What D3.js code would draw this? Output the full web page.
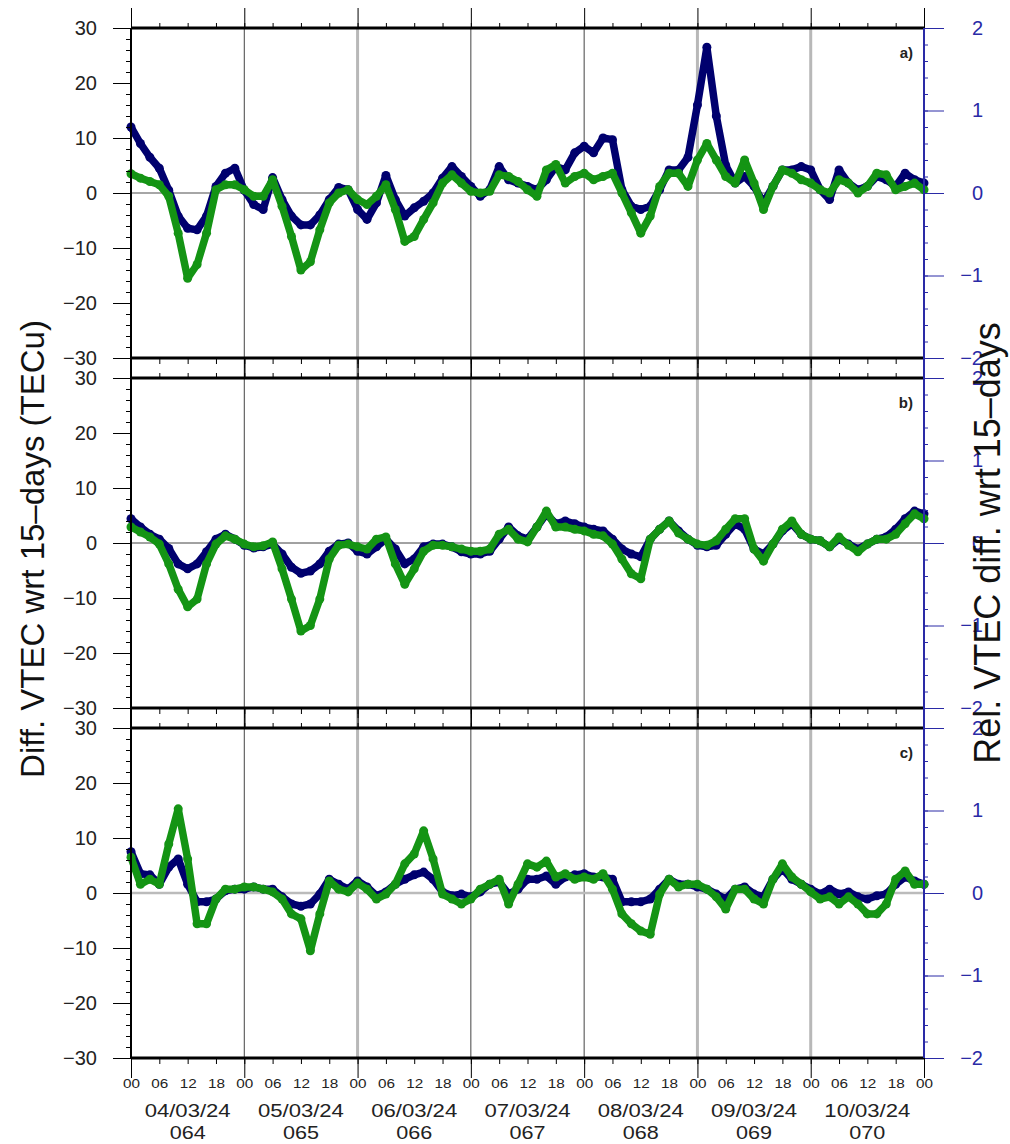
<!DOCTYPE html>
<html>
<head>
<meta charset="utf-8">
<script src="https://cdn.jsdelivr.net/npm/d3@7"></script>
<style>
body { margin: 0; background: #fff; }
svg { font-family: "Liberation Sans", Arial, sans-serif; }
</style>
</head>
<body>
<svg id="chart" width="1010" height="1144"></svg>
<script>
// sample times, hours since 04/03/24 00 UT (2-hour sampling)
const hours = [0, 2, 4, 6, 8, 10, 12, 14, 16, 18, 20, 22,
  24, 26, 28, 30, 32, 34, 36, 38, 40, 42, 44, 46,
  48, 50, 52, 54, 56, 58, 60, 62, 64, 66, 68, 70,
  72, 74, 76, 78, 80, 82, 84, 86, 88, 90, 92, 94,
  96, 98, 100, 102, 104, 106, 108, 110, 112, 114, 116, 118,
  120, 122, 124, 126, 128, 130, 132, 134, 136, 138, 140, 142,
  144, 146, 148, 150, 152, 154, 156, 158, 160, 162, 164, 166, 168];

const dayLabels = ["04/03/24", "05/03/24", "06/03/24", "07/03/24", "08/03/24", "09/03/24", "10/03/24"];
const doyLabels = ["064", "065", "066", "067", "068", "069", "070"];
const hourLabels = ["00", "06", "12", "18"];
const leftTicks = [-30, -20, -10, 0, 10, 20, 30];
const rightTicks = [-2, -1, 0, 1, 2];
const panelLabels = ["a)", "b)", "c)"];

// panel a
const aBlue = [12, 9, 6.5, 4.5, 0.5, -4.2, -6.4, -6.7, -4.2, 1.2, 3.6, 4.5,
  0.5, -2.1, -3, 2.8, -1.2, -4.2, -5.8, -5.8, -4, -1.2, 1, 0.6,
  -3, -4.8, -1.8, 3.2, -1.2, -4.2, -2.7, -1.5, 0, 2.7, 4.8, 3,
  1.2, -0.6, 0.6, 4.8, 2.4, 1.8, 1.2, 0.6, 2.4, 4.8, 4.2, 7.3,
  8.5, 7.3, 10, 9.7, 0.6, -2.4, -3, -2.4, 0.6, 4.2, 4.2, 6.5,
  16, 26.5, 14, 5, 1.8, 3, 1.2, -1.8, 1.2, 4.2, 4.2, 4.8,
  4.2, 0.6, -1.2, 4.2, 1.8, 0.6, 1.2, 3, 2.4, 1.2, 3.6, 2.4, 1.8];
const aGreen = [3.5, 2.7, 2.1, 1.5, -0.6, -7.3, -15.5, -13, -7.3, 0.6, 1.5, 1.5,
  0.6, -0.6, -0.6, 2.4, -2.4, -7.9, -14, -12.5, -6.7, -1.8, 0, 0.6,
  -1.2, -2.1, -0.6, 1.5, -3, -8.8, -7.9, -4.8, -1.8, 1.8, 3.3, 1.8,
  0.3, 0, 0.3, 3.3, 3, 2.1, 0.6, -0.6, 4.2, 5.2, 1.8, 3,
  3.6, 2.4, 3, 3.6, 0, -3.6, -7.3, -4.2, 1.2, 3.6, 3.6, 1.2,
  6, 9, 6, 3, 1.8, 6, 1.8, -3, 1.2, 4.2, 3.6, 2.4,
  1.8, 0.6, 0, 2.4, 1.8, 0, 1.2, 3.6, 3.3, 0.6, 1.2, 1.8, 0.6];

// panel b
const bBlue = [4.4, 2.9, 1.6, 0.7, -1, -3.8, -4.7, -3.8, -1.6, 0.7, 1.6, 0.7,
  -0.4, -0.9, -0.7, -0.2, -2, -4.4, -5.5, -5.1, -3.8, -1.5, -0.2, 0,
  -1.5, -2, -0.7, 0.7, -1.1, -3.8, -2.9, -0.7, -0.2, -0.2, -0.7, -1.6,
  -2, -2, -1.5, 0.7, 2.9, 1.3, 0.7, 2.9, 5.3, 3.5, 4, 3.5,
  2.9, 2.5, 2.2, 0.7, -1.1, -2, -2.5, 0.7, 2.5, 4, 2.2, 0.7,
  -0.4, -0.7, -0.4, 1.6, 3.5, 2.5, -1.1, -2, -0.2, 2.2, 3.5, 1.6,
  0.7, 0.4, -0.7, 0.7, -0.2, -1.1, -0.2, 0.7, 1.1, 2.5, 4.4, 5.8, 5.3];
const bGreen = [2.9, 2, 1.1, -0.2, -3.8, -8.4, -11.6, -10.2, -3.8, -0.2, 1.3, 0.7,
  -0.2, -0.7, -0.5, 0.2, -4.7, -10.2, -16, -15, -10.2, -2.9, -0.4, -0.2,
  -0.7, -1.1, 0.7, 1.1, -3.8, -7.5, -4.7, -1.5, -0.4, -0.4, -0.7, -1.1,
  -1.5, -1.5, -1.1, 1.6, 2.5, 0.7, 0.2, 2.9, 5.8, 2.9, 2.9, 2.5,
  2.2, 1.6, 1.3, -0.2, -2.9, -5.6, -6.5, 0.7, 2.5, 4, 1.8, 0.7,
  -0.2, -0.4, 0.4, 2.5, 4.4, 4.4, -1.1, -3.3, -0.2, 2.5, 4, 1.6,
  0.7, 0.4, -0.7, 1.1, -0.4, -1.6, -0.2, 0.7, 0.7, 1.6, 3.5, 5.3, 4.4];

// panel c
const cBlue = [7.5, 3.5, 3.3, 1.6, 4.7, 6.2, 1.6, -1.6, -1.6, -1.1, 0.4, 0.7,
  0.7, 1.1, 0.7, 0.7, -0.7, -2, -2.4, -2, -0.2, 2.5, 1.6, 0.7,
  2.2, 1.1, -0.5, 0.2, 1.6, 2.5, 3.3, 3.8, 2.5, 0.2, -0.5, -0.2,
  -0.7, 0.2, 1.6, 2, -0.2, 0.7, 2.5, 2.5, 3.1, 1.6, 2.9, 3.3,
  3.5, 2.9, 2.9, 2.5, -1.6, -1.6, -1.6, -1.1, 0.7, 2.5, 1.6, 1.6,
  1.1, 0.7, -0.2, -1.1, 0.7, 1.1, -0.2, -0.7, 2.5, 4.4, 2.5, 1.6,
  0.7, -0.2, 0.7, -0.2, 0.2, -0.7, -1.1, -0.5, -0.2, 1.6, 2.9, 2.2, 1.6];
const cGreen = [6.5, 1.6, 2.5, 1.6, 8.9, 15.3, 6.2, -5.6, -5.6, -1.1, 0.7, 0.7,
  1.1, 1.1, 0.7, 0.2, -1.1, -3.8, -4.7, -10.5, -3.8, 2.2, 0.7, 0.2,
  1.8, 0.7, -1.1, -0.2, 1.6, 5.3, 7.1, 11.3, 6.2, -0.2, -1.1, -2,
  -1.1, 0.7, 1.6, 2.5, -2, 1.6, 5.3, 4.7, 5.8, 2.9, 3.5, 2.5,
  2.9, 2.5, 3.5, 0.7, -3.8, -5.6, -6.9, -7.5, -0.2, 2.5, 1.1, 1.6,
  1.6, 0.7, -0.7, -2.9, 0.7, 0.7, -1.1, -2, 2.5, 5.3, 2.9, 1.6,
  0.2, -1.1, -0.7, -2, -0.7, -2, -3.8, -3.8, -2, 2.5, 4, 1.6, 1.6];

const BLUE = "#00006e";
const GREEN = "#149414";
const AXISBLUE = "#2a2aa6";

const svg = d3.select("#chart");
const x = d3.scaleLinear().domain([0, 168]).range([131, 924]);
const dayTicks = d3.range(0, 169, 24);
const sixTicks = d3.range(0, 169, 6);
const thickDays = [48, 120, 144];
const zeroStyle = [["#888", 1.3], ["#444", 1], ["#bbb", 2.5]];
const panelTops = [28, 378, 728];
const panelH = 330;
const intFmt = d3.format("d");

function drawPanel(i, blue, green) {
  const top = panelTops[i], bottom = top + panelH;
  const y = d3.scaleLinear().domain([-30, 30]).range([bottom, top]);
  const yR = d3.scaleLinear().domain([-2, 2]).range([bottom, top]);
  const g = svg.append("g");

  // day separators
  g.selectAll(".day").data(dayTicks.slice(1, -1)).join("line")
    .attr("x1", d => x(d)).attr("x2", d => x(d))
    .attr("y1", i === 0 ? top : top - 10).attr("y2", i === 2 ? bottom : bottom + 10)
    .attr("stroke", d => thickDays.includes(d) ? "#b8b8b8" : "#444")
    .attr("stroke-width", d => thickDays.includes(d) ? 3 : 1);

  // zero line
  g.append("line")
    .attr("x1", x(0)).attr("x2", x(168))
    .attr("y1", y(0)).attr("y2", y(0))
    .attr("stroke", zeroStyle[i][0]).attr("stroke-width", zeroStyle[i][1]);

  // series
  [[blue, BLUE], [green, GREEN]].forEach(([vals, col]) => {
    const line = d3.line().x((d, j) => x(hours[j])).y(d => y(d));
    g.append("path").datum(vals)
      .attr("d", line)
      .attr("fill", "none")
      .attr("stroke", col)
      .attr("stroke-width", 7.5)
      .attr("stroke-linejoin", "round")
      .attr("stroke-linecap", "round");
    g.append("g").selectAll("circle").data(vals).join("circle")
      .attr("cx", (d, j) => x(hours[j]))
      .attr("cy", d => y(d))
      .attr("r", 4.5)
      .attr("fill", col);
  });

  // left axis
  const left = g.append("g").attr("transform", "translate(131,0)");
  left.append("g").call(d3.axisLeft(y).tickValues(leftTicks).tickSize(18).tickPadding(16).tickSizeOuter(0))
    .call(a => a.select(".domain").remove())
    .call(a => a.selectAll("text").attr("font-size", 20).attr("fill", "#222"));
  left.append("g").call(d3.axisLeft(y).ticks(30).tickSize(5).tickFormat("").tickSizeOuter(0))
    .call(a => a.select(".domain").remove());

  // right axis
  const right = g.append("g").attr("transform", "translate(924,0)");
  right.append("g").call(d3.axisRight(yR).tickValues(rightTicks).tickSize(20).tickFormat(intFmt).tickSizeOuter(0))
    .call(a => a.select(".domain").remove())
    .call(a => a.selectAll("line").attr("stroke", AXISBLUE))
    .call(a => a.selectAll("text").attr("x", 59).attr("text-anchor", "end")
      .attr("font-size", 20).attr("fill", AXISBLUE));
  right.append("g").call(d3.axisRight(yR).ticks(20).tickSize(4).tickFormat("").tickSizeOuter(0))
    .call(a => a.select(".domain").remove())
    .call(a => a.selectAll("line").attr("stroke", AXISBLUE));

  // top / bottom time ticks
  const tAxis = g.append("g").attr("transform", `translate(0,${top})`);
  tAxis.append("g").call(d3.axisTop(x).tickValues(dayTicks).tickSize(20).tickFormat("").tickSizeOuter(0))
    .call(a => a.select(".domain").remove());
  tAxis.append("g").call(d3.axisTop(x).tickValues(sixTicks).tickSize(5).tickFormat("").tickSizeOuter(0))
    .call(a => a.select(".domain").remove());

  const bAxis = g.append("g").attr("transform", `translate(0,${bottom})`);
  bAxis.append("g").call(d3.axisBottom(x).tickValues(dayTicks).tickSize(20).tickFormat("").tickSizeOuter(0))
    .call(a => a.select(".domain").remove());
  bAxis.append("g").call(d3.axisBottom(x).tickValues(sixTicks).tickSize(6).tickPadding(15).tickSizeOuter(0)
      .tickFormat(d => i === 2 ? hourLabels[(d % 24) / 6] : ""))
    .call(a => a.select(".domain").remove())
    .call(a => a.selectAll("text").attr("font-size", 12).attr("fill", "#222")
      .attr("textLength", 17).attr("lengthAdjust", "spacingAndGlyphs"));

  // frame
  g.append("line").attr("x1", x(0)).attr("x2", x(168)).attr("y1", top).attr("y2", top)
    .attr("stroke", "#000").attr("stroke-width", 3);
  g.append("line").attr("x1", x(0)).attr("x2", x(168)).attr("y1", bottom).attr("y2", bottom)
    .attr("stroke", "#000").attr("stroke-width", 3);

  // panel label
  g.append("text").attr("x", 913).attr("y", top + 30)
    .attr("text-anchor", "end").attr("font-size", 15).attr("font-weight", "bold")
    .attr("fill", "#222").text(panelLabels[i]);
}

drawPanel(0, aBlue, aGreen);
drawPanel(1, bBlue, bGreen);
drawPanel(2, cBlue, cGreen);

// continuous axis lines
svg.append("line").attr("x1", 131).attr("x2", 131).attr("y1", 28).attr("y2", 1058)
  .attr("stroke", "#000").attr("stroke-width", 2);
svg.append("line").attr("x1", 924).attr("x2", 924).attr("y1", 28).attr("y2", 1058)
  .attr("stroke", AXISBLUE).attr("stroke-width", 2);

// date labels
svg.append("g").selectAll("text").data(dayLabels).join("text")
  .attr("x", (d, k) => x(24 * k + 12)).attr("y", 1117)
  .attr("text-anchor", "middle").attr("font-size", 19).attr("fill", "#222")
  .attr("textLength", 86).attr("lengthAdjust", "spacingAndGlyphs")
  .text(d => d);
svg.append("g").selectAll("text").data(doyLabels).join("text")
  .attr("x", (d, k) => x(24 * k + 12)).attr("y", 1139)
  .attr("text-anchor", "middle").attr("font-size", 19).attr("fill", "#222")
  .attr("textLength", 36).attr("lengthAdjust", "spacingAndGlyphs")
  .text(d => d);

// axis titles
svg.append("text").attr("transform", "translate(44,549) rotate(-90)")
  .attr("text-anchor", "middle").attr("font-size", 33).attr("fill", "#111")
  .text("Diff. VTEC wrt 15\u2013days (TECu)");
svg.append("text").attr("transform", "translate(1000,543) rotate(-90)")
  .attr("text-anchor", "middle").attr("font-size", 36).attr("fill", "#111")
  .text("Rel. VTEC diff. wrt 15\u2013days");
</script>
</body>
</html>
